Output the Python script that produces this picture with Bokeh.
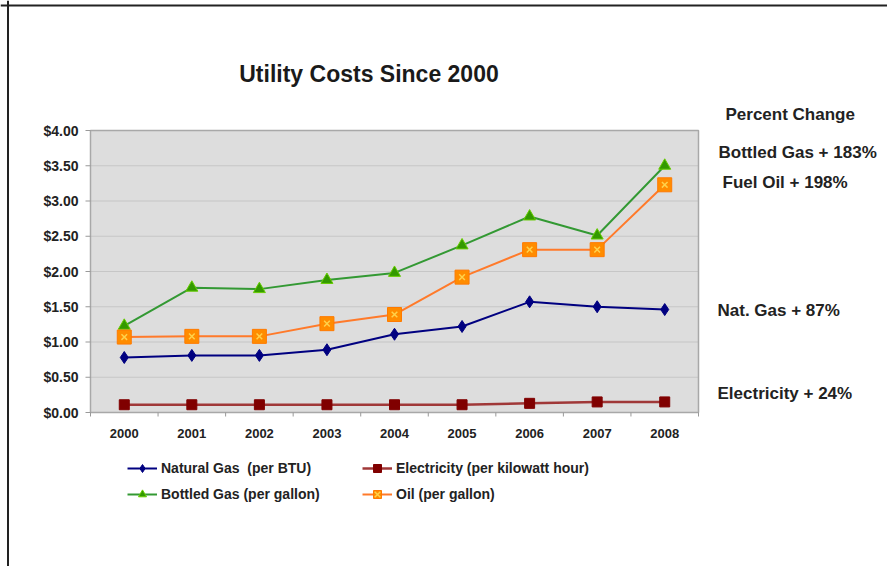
import math
from bokeh.plotting import figure
from bokeh.models import Range1d, Legend, LegendItem, Label, Span
from bokeh.core.properties import value
from bokeh.embed import file_html
from bokeh.resources import INLINE

years = [2000, 2001, 2002, 2003, 2004, 2005, 2006, 2007, 2008]
natural_gas = [0.78, 0.81, 0.81, 0.89, 1.11, 1.22, 1.57, 1.50, 1.46]
electricity = [0.11, 0.11, 0.11, 0.11, 0.11, 0.11, 0.13, 0.15, 0.15]
bottled_gas = [1.23, 1.77, 1.75, 1.88, 1.98, 2.37, 2.78, 2.51, 3.50]
oil = [1.07, 1.08, 1.08, 1.26, 1.39, 1.92, 2.31, 2.31, 3.23]

x_tick_labels = ["2000", "2001", "2002", "2003", "2004", "2005", "2006", "2007", "2008"]
y_ticks = [0.0, 0.5, 1.0, 1.5, 2.0, 2.5, 3.0, 3.5, 4.0]
y_tick_labels = ["$0.00", "$0.50", "$1.00", "$1.50", "$2.00", "$2.50", "$3.00", "$3.50", "$4.00"]

series_names = ["Natural Gas  (per BTU)", "Electricity (per kilowatt hour)",
                "Bottled Gas (per gallon)", "Oil (per gallon)"]
title_text = "Utility Costs Since 2000"
note_texts = ["Percent Change", "Bottled Gas + 183%", "Fuel Oil + 198%",
              "Nat. Gas + 87%", "Electricity + 24%"]

# ---- layout (pixels) ----
W, H = 887, 566
PL, PR, PT, PB = 90, 698, 130, 412          # plot area in canvas pixels
X0, X1 = years[0] - 0.5, years[-1] + 0.5    # category span
Y0, Y1 = y_ticks[0], y_ticks[-1]
xs = (X1 - X0) / (PR - PL)                  # data units per pixel
ys = (Y1 - Y0) / (PB - PT)

def px_x(px):
    return X0 + (px - PL) * xs

def px_y(py):
    return Y0 + (PB - py) * ys

FONT = "Liberation Sans"
TXT = "#222222"

p = figure(width=W, height=H, output_backend="svg", toolbar_location=None,
           x_range=Range1d(px_x(0), px_x(W)), y_range=Range1d(px_y(H), px_y(0)),
           x_axis_type=None, y_axis_type=None, min_border=0)
p.grid.visible = False
p.outline_line_color = None
p.background_fill_color = "white"
p.border_fill_color = "white"

# plot area background + grid
p.quad(left=[X0], right=[X1], bottom=[Y0], top=[Y1], fill_color="#DDDDDD",
       line_color=None)
p.segment(x0=[X0] * len(y_ticks), x1=[X1] * len(y_ticks), y0=y_ticks, y1=y_ticks,
          line_color="#C6C6C6", line_width=1.2)
p.quad(left=[X0], right=[X1], bottom=[Y0], top=[Y1], fill_color=None,
       line_color="#A8A8A8", line_width=1.5)

# y axis ticks and labels
p.ray(x=[X0] * len(y_ticks), y=y_ticks, length=5, length_units="screen", angle=math.pi,
      line_color="#999999", line_width=1)
p.text(x=[X0] * len(y_ticks), y=y_ticks, text=y_tick_labels, x_offset=-12,
       text_align="right", text_baseline="middle", text_font=value(FONT),
       text_font_style="bold", text_font_size="14px", text_color=TXT)

# x axis boundary ticks and labels
bounds = [y - 0.5 for y in years] + [years[-1] + 0.5]
p.ray(x=bounds, y=[Y0] * len(bounds), length=4, length_units="screen", angle=-math.pi / 2,
      line_color="#999999", line_width=1)
p.text(x=years, y=[Y0] * len(years), text=x_tick_labels, y_offset=21,
       text_align="center", text_baseline="middle", text_font=value(FONT),
       text_font_style="bold", text_font_size="13px", text_color=TXT)

# series
r_ng_l = p.line(years, natural_gas, line_color="#000080", line_width=2)
r_ng_m = p.scatter(years, natural_gas, marker="diamond", size=12, fill_color="#000080", line_color="#000080")

r_el_l = p.line(years, electricity, line_color="#A03838", line_width=2.5)
r_el_m = p.scatter(years, electricity, marker="square", size=10, fill_color="#800000", line_color="#800000")

r_bg_l = p.line(years, bottled_gas, line_color="#339933", line_width=2)
r_bg_m = p.scatter(years, bottled_gas, marker="triangle", size=12, fill_color="#339900", line_color="#66CC00")

r_oil_l = p.line(years, oil, line_color="#FF7A2A", line_width=2)
r_oil_m = p.scatter(years, oil, marker="square", size=14, fill_color="#FF8C00", line_color="#FF7A00")
r_oil_x = p.scatter(years, oil, marker="x", size=8, line_color="#FFD24A", line_width=1.5)

def make_legend(items, left_px, top_px):
    height = 20 + 6 + 20
    lg = Legend(items=items, location=(left_px, H - top_px - height), orientation="vertical",
                glyph_width=30, glyph_height=20, label_height=20, spacing=6,
                padding=0, margin=0, label_standoff=4,
                border_line_color=None, background_fill_alpha=0,
                label_text_font=FONT, label_text_font_style="bold",
                label_text_font_size="14px", label_text_color=TXT)
    p.add_layout(lg)

make_legend([LegendItem(label=series_names[0], renderers=[r_ng_l, r_ng_m]),
             LegendItem(label=series_names[2], renderers=[r_bg_l, r_bg_m])], 127, 458)
make_legend([LegendItem(label=series_names[1], renderers=[r_el_l, r_el_m]),
             LegendItem(label=series_names[3], renderers=[r_oil_l, r_oil_m, r_oil_x])], 362, 458)

# title
p.add_layout(Label(x=px_x(368.5), y=px_y(73), text=title_text, text_align="center",
                   text_baseline="middle", text_font=FONT, text_font_style="bold",
                   text_font_size="23px", text_color="#1a1a1a"))

# percent-change notes
note_px = [(725, 114), (718, 152), (722, 182), (717, 310), (717, 393)]
for t, (nx, ny) in zip(note_texts, note_px):
    p.add_layout(Label(x=px_x(nx), y=px_y(ny), text=t, text_align="left", text_baseline="middle",
                       text_font=FONT, text_font_style="bold", text_font_size="17px",
                       text_color=TXT))

# outer frame edges (left and top)
p.add_layout(Span(location=px_x(7.5), dimension="height", line_color="#222222", line_width=2))
p.add_layout(Span(location=px_y(5), dimension="width", line_color="#222222", line_width=2))

open("out.html", "w").write(file_html(p, INLINE))
